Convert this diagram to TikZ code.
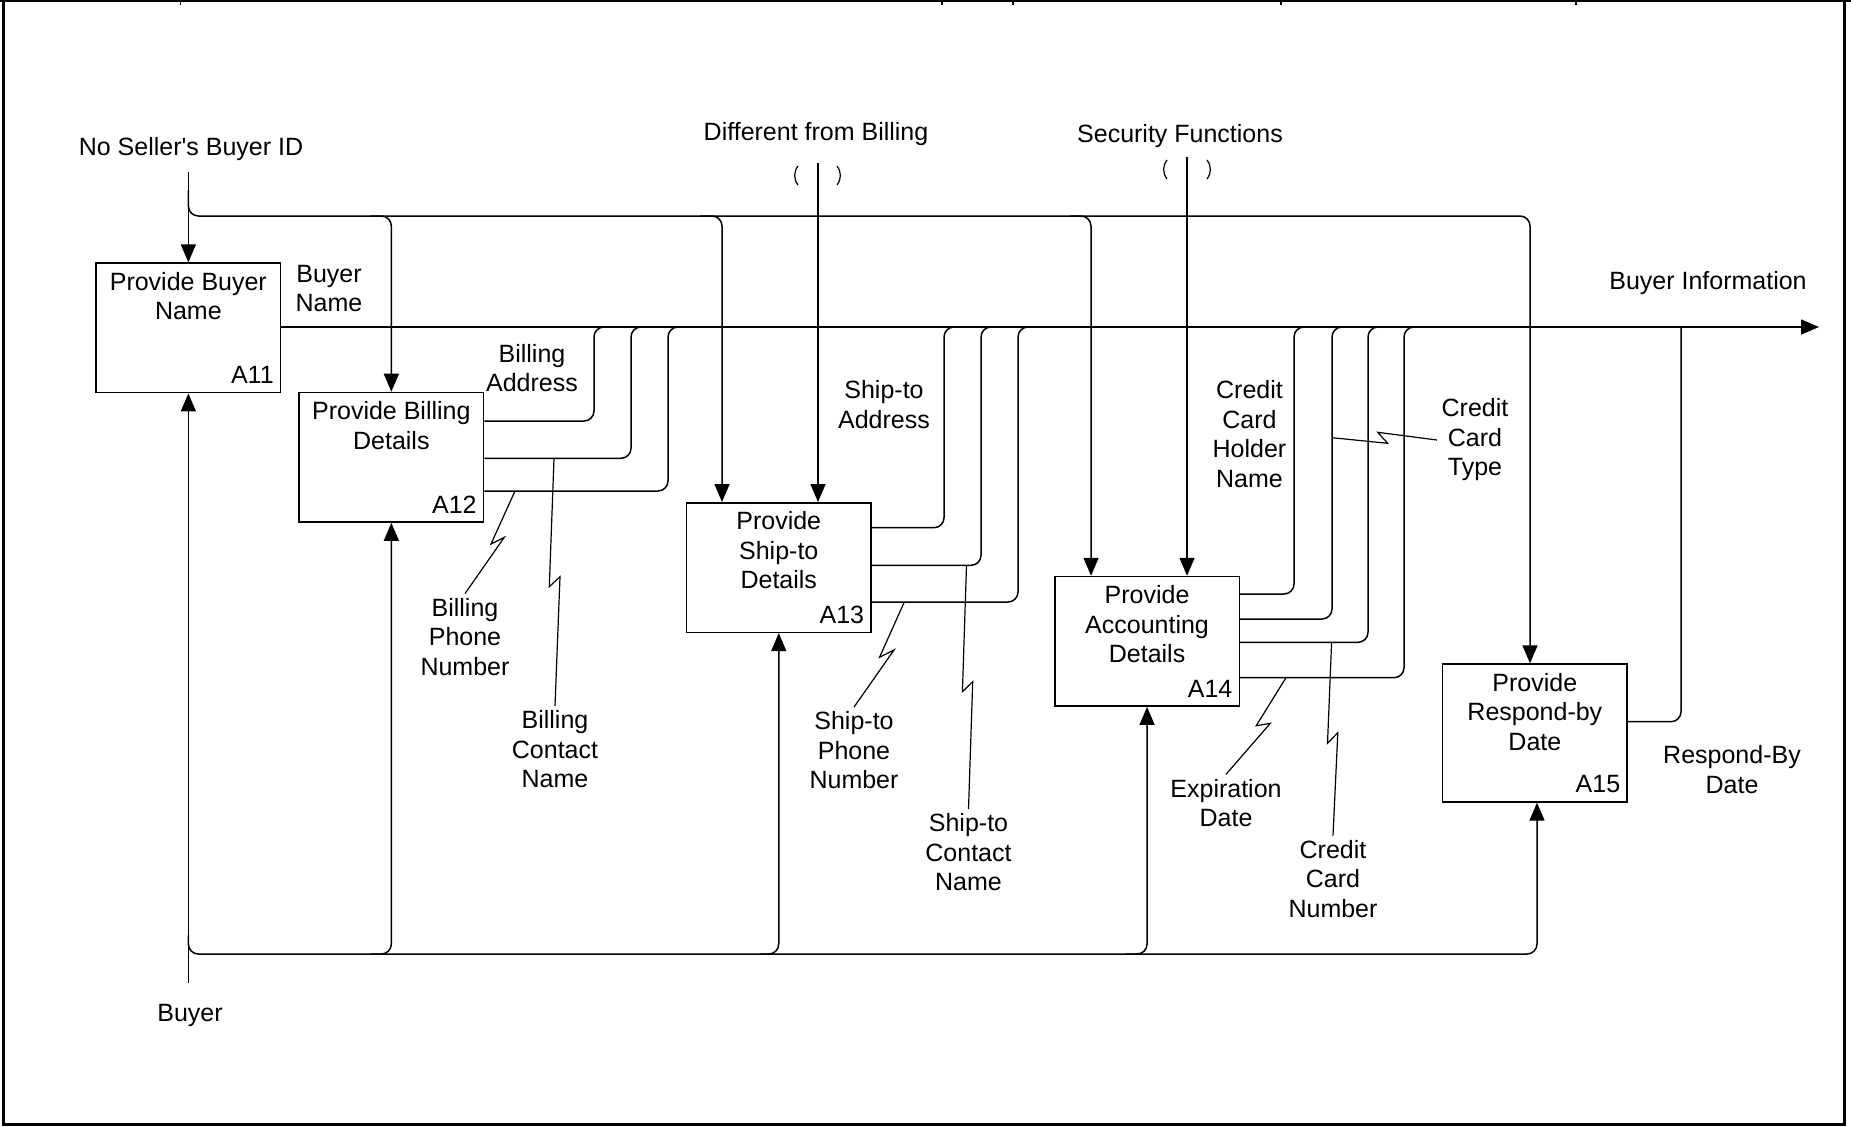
\documentclass[tikz,border=0pt]{standalone}
\usepackage{fontspec}
\setmainfont{Liberation Sans}
\usetikzlibrary{arrows.meta}
\begin{document}
\begin{tikzpicture}[x=0.5pt,y=-0.5pt,
  font=\fontsize{12.5}{14.75}\selectfont,
  line width=0.75pt,
  fbox/.style={draw, line width=0.8pt, minimum width=92.25pt, minimum height=64.75pt, anchor=north west, inner sep=0pt},
  ttl/.style={align=center, anchor=north, inner sep=0pt},
  idl/.style={anchor=south east, inner sep=0pt},
  lbl/.style={align=center, inner sep=2pt},
  conn/.style={line width=0.75pt, rounded corners=5pt},
  arr/.style={-{Triangle[length=9pt,width=7.5pt]}},
  sq/.style={line width=0.6pt},
]
\useasboundingbox (0,0) rectangle (1851,1126);
% frame
\draw[line width=1.5pt] (3.5,0) -- (3.5,1124.5) -- (1844,1124.5) -- (1844,0);
\draw[line width=1.2pt] (0,1.2) -- (1851,1.2);
\foreach \x in {180.6,942,1013,1281,1576} \draw[line width=0.75pt] (\x,0) -- (\x,5);

% boxes
\node[fbox] (A11) at (95.3,262.3) {};
\node[fbox] (A12) at (298.3,391.7) {};
\node[fbox] (A13) at (685.7,502) {};
\node[fbox] (A14) at (1054,575.8) {};
\node[fbox, minimum height=68.85pt] (A15) at (1441.8,663.3) {};

\node[ttl] (A11t) at ([yshift=-4.5pt]A11.north) {Provide Buyer\\Name};
\node[ttl] (A12t) at ([yshift=-4.5pt]A12.north) {Provide Billing\\Details};
\node[ttl] (A13t) at ([yshift=-4.5pt]A13.north) {Provide\\Ship-to\\Details};
\node[ttl] (A14t) at ([yshift=-4.5pt]A14.north) {Provide\\Accounting\\Details};
\node[ttl] (A15t) at ([yshift=-4.5pt]A15.north) {Provide\\Respond-by\\Date};

\node[idl] (A11i) at ([xshift=-3.5pt,yshift=4.5pt]A11.south east) {A11};
\node[idl] (A12i) at ([xshift=-3.5pt,yshift=4.5pt]A12.south east) {A12};
\node[idl] (A13i) at ([xshift=-3.5pt,yshift=4.5pt]A13.south east) {A13};
\node[idl] (A14i) at ([xshift=-3.5pt,yshift=4.5pt]A14.south east) {A14};
\node[idl] (A15i) at ([xshift=-3.5pt,yshift=4.5pt]A15.south east) {A15};

% labels
\node[lbl] (lNSB) at (191,149.5) {No Seller\textquotesingle s Buyer ID};
\node[lbl] (lDFB) at (816,134.5) {Different from Billing};
\node[lbl] (lSF) at (1180,136.5) {Security Functions};
\node[lbl] (lBI) at (1708,283) {Buyer Information};
\node[lbl] (lBN) at (329,288.5) {Buyer\\Name};
\node[lbl] (lBA) at (532,368) {Billing\\Address};
\node[lbl] (lSA) at (884,404.5) {Ship-to\\Address};
\node[lbl] (lCCH) at (1249.5,434) {Credit\\Card\\Holder\\Name};
\node[lbl] (lCCT) at (1475,440) {Credit\\Card\\Type};
\node[lbl] (lBPN) at (465,637) {Billing\\Phone\\Number};
\node[lbl] (lBCN) at (555,749.5) {Billing\\Contact\\Name};
\node[lbl] (lSPN) at (854,750.5) {Ship-to\\Phone\\Number};
\node[lbl] (lSCN) at (968.5,852.5) {Ship-to\\Contact\\Name};
\node[lbl] (lED) at (1226,803) {Expiration\\Date};
\node[lbl] (lCCN) at (1333,879) {Credit\\Card\\Number};
\node[lbl] (lRBD) at (1732,769.5) {Respond-By\\Date};
\node[lbl] (lBuy) at (190,1015.5) {Buyer};

% controls from top
\draw[arr] (A11.north |- 0,171.7) -- (A11.north);
\draw[conn,arr] (A11.north |- 0,190) -- (A11.north |- 0,216) -- (1530,216) -- (1530,0 |- A15.north);
\draw[conn,arr] (370,216) -- (A12.north |- 0,216) -- (A12.north);
\draw[conn,arr] (700,216) -- (722,216) -- (722,0 |- A13.north);
\draw[conn,arr] (1070,216) -- (1091,216) -- (1091,0 |- A14.north);

\draw[arr] (818,163.3) -- (818,0 |- A13.north);
\draw[sq] (798,166) .. controls (793.5,172) and (793.5,179) .. (798,185);
\draw[sq] (837,166) .. controls (841.5,172) and (841.5,179) .. (837,185);
\draw[arr] (1187,156.7) -- (1187,0 |- A14.north);
\draw[sq] (1167,160) .. controls (1162.5,166) and (1162.5,173) .. (1167,179);
\draw[sq] (1207,160) .. controls (1211.5,166) and (1211.5,173) .. (1207,179);

% main output
\coordinate (outEnd) at (1819,327);
\draw[arr] (A11.east |- 0,327) -- (outEnd);

\draw[conn] (A12.east |- 0,421) -- (594,421) -- (594,327) -- (620,327);
\draw[conn] (A12.east |- 0,458.3) -- (631,458.3) -- (631,327) -- (655,327);
\draw[conn] (A12.east |- 0,491) -- (668,491) -- (668,327) -- (690,327);

\draw[conn] (A13.east |- 0,527.7) -- (944,527.7) -- (944,327) -- (970,327);
\draw[conn] (A13.east |- 0,565.3) -- (981,565.3) -- (981,327) -- (1005,327);
\draw[conn] (A13.east |- 0,602) -- (1018,602) -- (1018,327) -- (1040,327);

\draw[conn] (A14.east |- 0,594) -- (1294,594) -- (1294,327) -- (1320,327);
\draw[conn] (A14.east |- 0,619) -- (1332,619) -- (1332,327) -- (1355,327);
\draw[conn] (A14.east |- 0,642.3) -- (1368,642.3) -- (1368,327) -- (1390,327);
\draw[conn] (A14.east |- 0,677.7) -- (1404,677.7) -- (1404,327) -- (1425,327);

\draw[conn] (A15.east |- 0,721.7) -- (1681,721.7) -- (1681,327);

% mechanism
\draw[arr] (A11.south |- 0,983.3) -- (A11.south);
\draw[conn,arr] (A11.south |- 0,935) -- (A11.south |- 0,954) -- (1537,954) -- (1537,0 |- A15.south);
\draw[conn,arr] (370,954) -- (A12.south |- 0,954) -- (A12.south);
\draw[conn,arr] (760,954) -- (A13.south |- 0,954) -- (A13.south);
\draw[conn,arr] (1125,954) -- (A14.south |- 0,954) -- (A14.south);

% squiggles
\draw[sq] (515,491) -- (491,544) -- (504.3,537.3) -- (lBPN.north);
\draw[sq] (554,458.3) -- (549.3,586.7) -- (560,576.7) -- (lBCN.north);
\draw[sq] (904.3,602) -- (879.5,657.3) -- (894,650) -- (lSPN.north);
\draw[sq] (966.5,565.3) -- (962.4,691.7) -- (972.7,681.7) -- (lSCN.north);
\draw[sq] (1286,677.7) -- (1256.2,725.7) -- (1270.3,723.3) -- (lED.north);
\draw[sq] (1331.6,642.3) -- (1327.5,743.3) -- (1337.8,732.7) -- (lCCN.north);
\draw[sq] (1332,437.7) -- (1387.7,443.3) -- (1377.7,432.3) -- (lCCT.west);
\end{tikzpicture}
\end{document}
